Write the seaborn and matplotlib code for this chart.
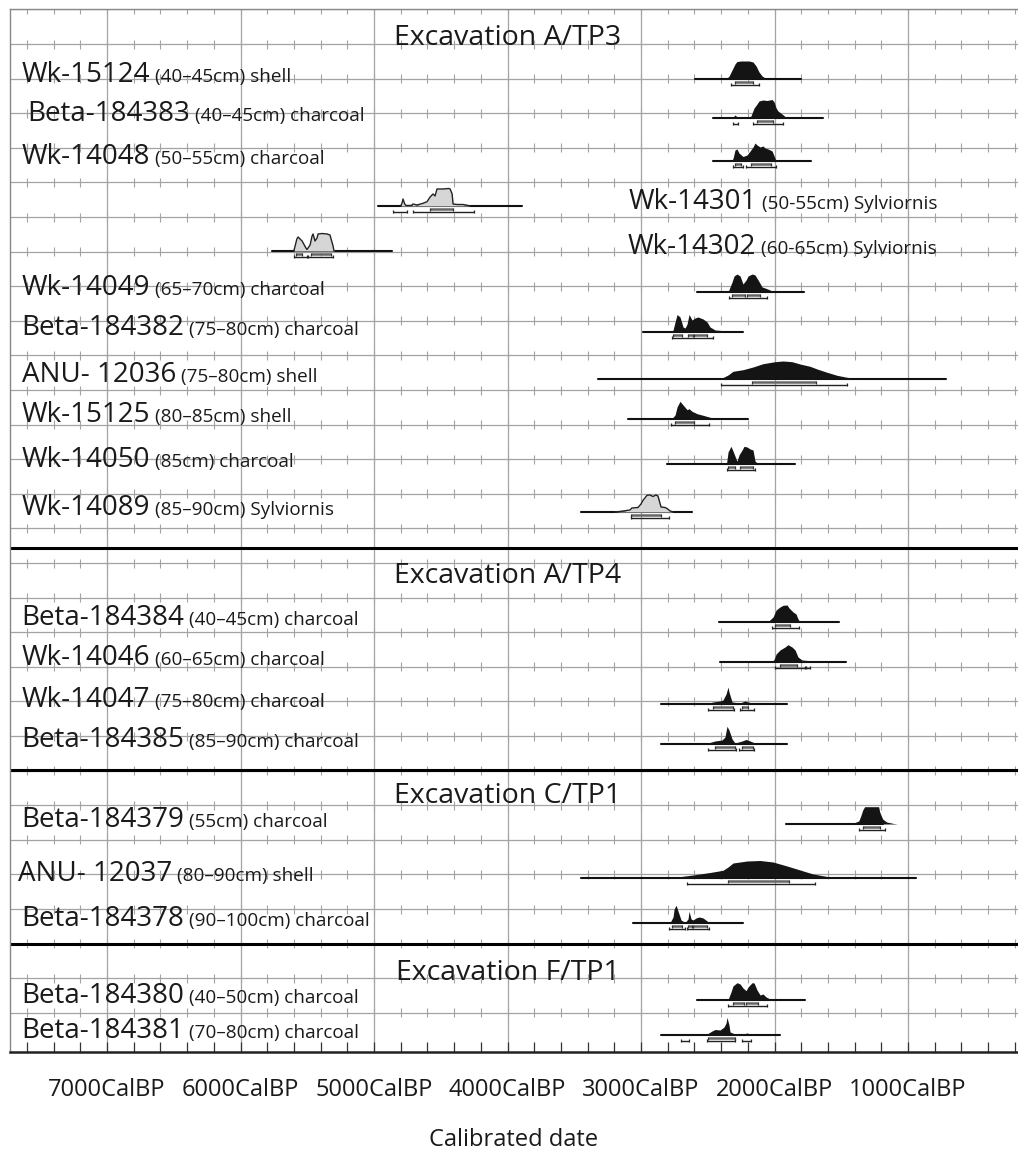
import numpy as np
import pandas as pd
import matplotlib
matplotlib.use("Agg")
import matplotlib.pyplot as plt
import seaborn as sns

# calibrated radiocarbon dates, OxCal style multiplot
sections = ["Excavation A/TP3", "Excavation A/TP4", "Excavation C/TP1", "Excavation F/TP1"]

lab_codes = ["Wk-15124", "Beta-184383", "Wk-14048", "Wk-14301", "Wk-14302", "Wk-14049",
             "Beta-184382", "ANU- 12036", "Wk-15125", "Wk-14050", "Wk-14089",
             "Beta-184384", "Wk-14046", "Wk-14047", "Beta-184385",
             "Beta-184379", "ANU- 12037", "Beta-184378",
             "Beta-184380", "Beta-184381"]
contexts = ["(40–45cm) shell", "(40–45cm) charcoal", "(50–55cm) charcoal",
            "(50-55cm) Sylviornis", "(60-65cm) Sylviornis", "(65–70cm) charcoal",
            "(75–80cm) charcoal", "(75–80cm) shell", "(80–85cm) shell", "(85cm) charcoal",
            "(85–90cm) Sylviornis",
            "(40–45cm) charcoal", "(60–65cm) charcoal", "(75–80cm) charcoal", "(85–90cm) charcoal",
            "(55cm) charcoal", "(80–90cm) shell", "(90–100cm) charcoal",
            "(40–50cm) charcoal", "(70–80cm) charcoal"]

# unmodelled span of each date (cal BP)
prior_start = [2595, 2460, 2460, 4970, 5764, 2580, 2985, 3322, 3097, 2805, 3449,
               2415, 2408, 2851, 2851, 1914, 3449, 3060, 2580, 2851]
prior_end = [1801, 1637, 1726, 3891, 4865, 1779, 2236, 715, 2198, 1846, 2618,
             1516, 1464, 1906, 1906, 1187, 939, 2236, 1771, 1959]

# probability curves (cal BP, relative height)
dens_bp = [
    [2400, 2355, 2340, 2318, 2296, 2281, 2250, 2190, 2161, 2138, 2116, 2093, 2071, 2040],
    [2320, 2303, 2296, 2288, 2270, 2200, 2176, 2168, 2153, 2131, 2116, 2086, 2056, 2018, 2003, 1988, 1974, 1944, 1921, 1890],
    [2320, 2310, 2296, 2281, 2266, 2236, 2206, 2183, 2161, 2146, 2131, 2108, 2086, 2071, 2048, 2018, 2003, 1988],
    [4800, 4790, 4783, 4770, 4760, 4720, 4708, 4678, 4633, 4603, 4580, 4558, 4543, 4528, 4520, 4483, 4440, 4430, 4415, 4408, 4378, 4340, 4333, 4296, 4280],
    [5601, 5593, 5578, 5569, 5539, 5510, 5502, 5494, 5479, 5464, 5457, 5442, 5427, 5419, 5390, 5352, 5330, 5307, 5300],
    [2348, 2318, 2303, 2281, 2258, 2236, 2213, 2198, 2168, 2146, 2123, 2093, 2071, 2033, 2011],
    [2768, 2760, 2745, 2730, 2708, 2685, 2670, 2655, 2640, 2618, 2595, 2573, 2535, 2505, 2483, 2445, 2393, 2370],
    [2850, 2535, 2393, 2348, 2311, 2236, 2161, 2086, 1997, 1936, 1869, 1809, 1734, 1681, 1606, 1532, 1457, 1359, 1157],
    [2790, 2769, 2745, 2730, 2708, 2685, 2655, 2640, 2618, 2580, 2535, 2483, 2430, 2400],
    [2360, 2348, 2326, 2311, 2281, 2266, 2243, 2228, 2206, 2183, 2161, 2146, 2123],
    [3200, 3158, 3083, 3068, 3023, 3000, 2985, 2955, 2933, 2910, 2888, 2873, 2850, 2820, 2805, 2782, 2760],
    [2100, 2043, 2011, 1988, 1959, 1936, 1906, 1891, 1861, 1839, 1824, 1809],
    [2030, 2005, 1988, 1959, 1921, 1899, 1869, 1846, 1824, 1794, 1749, 1720],
    [2708, 2505, 2461, 2408, 2386, 2363, 2348, 2341, 2318, 2258, 2221, 2198, 2131],
    [2708, 2498, 2446, 2393, 2371, 2356, 2341, 2318, 2296, 2243, 2213, 2183, 2146, 2108],
    [1500, 1460, 1408, 1369, 1354, 1339, 1325, 1220, 1212, 1190, 1160, 1107, 1080],
    [2950, 2857, 2730, 2610, 2483, 2386, 2348, 2311, 2206, 2108, 2011, 1906, 1809, 1711, 1606, 1487, 1359],
    [2790, 2782, 2760, 2752, 2737, 2723, 2700, 2670, 2648, 2640, 2625, 2610, 2588, 2565, 2535, 2505, 2483],
    [2360, 2348, 2326, 2311, 2281, 2258, 2236, 2213, 2198, 2168, 2153, 2131, 2108, 2086, 2063, 2033, 2011],
    [2720, 2708, 2655, 2610, 2505, 2468, 2445, 2408, 2378, 2363, 2356, 2341, 2333, 2296, 2236, 2206, 2168, 2140],
]
dens_h = [
    [0, 1, 3, 9, 15, 17.5, 18, 18, 17, 13, 7, 3, 1, 0],
    [0, 2, 3, 2, 0.5, 0.5, 2, 5, 10, 14, 17, 18, 17.5, 18.5, 16, 10, 7, 4, 1.5, 0],
    [0, 3, 11, 12, 8, 4.5, 6, 10, 14, 18, 16, 14, 15, 13, 12, 10, 5, 0],
    [0, 3, 7, 2, 0.5, 0.5, 2, 1, 2.7, 4.3, 9, 12, 10, 17, 17, 17, 17.5, 17, 12, 2, 1.5, 1.5, 1.5, 0.5, 0],
    [0, 4, 12, 14, 10, 3, 1.5, 3, 6, 15, 17, 10, 13, 17, 17.5, 17, 16, 5, 0],
    [0, 10, 16, 18, 16, 8, 12, 16, 18, 17, 12, 5, 4, 2, 0],
    [0, 2, 10, 17.5, 15, 5, 4, 8, 17.5, 12, 14, 15, 13, 10, 5, 2, 1.5, 0],
    [0, 0.3, 1, 4, 7.7, 9.3, 12, 15.3, 17.3, 18, 17.3, 15, 12.7, 10, 6.7, 3.7, 1.7, 0.5, 0],
    [0, 0.5, 4, 12, 17.7, 14, 9.3, 10.3, 7.7, 5.3, 3.7, 1.7, 0.3, 0],
    [0, 12, 17.7, 13, 2.7, 9, 14, 17.7, 17, 15, 14, 3, 0],
    [0, 0.5, 2, 4, 4.5, 8, 11.7, 16.7, 17, 15.5, 17, 16, 5, 4.5, 3.5, 1, 0],
    [0, 1, 5, 12, 15, 16.7, 17, 14, 10, 8, 3, 0],
    [0, 2, 8, 12, 15, 17.3, 15, 12, 5, 2, 1.5, 0],
    [0, 0.5, 2, 3, 4, 10, 17, 12, 2, 1, 3, 2, 0],
    [0, 1, 3, 4, 7, 17.7, 14, 5, 1, 3, 4.5, 3, 1, 0],
    [0, 0.3, 1, 3, 8, 14, 17.3, 17.3, 12, 5, 2, 0.5, 0],
    [0, 0.3, 1, 3, 5.5, 7.7, 11, 15, 17, 17.5, 16, 12, 8, 4, 1.5, 0.5, 0],
    [0, 0.5, 6, 14, 17.7, 12, 3, 0.5, 4, 11.7, 4, 3, 5, 6, 5, 2, 0],
    [0, 0.5, 8, 14, 17.3, 16, 12, 9.3, 13, 17.3, 17, 10, 5, 6, 3, 1, 0],
    [0, 0.5, 1.5, 0.5, 1, 4, 5.5, 5, 8, 12, 17.7, 10, 3, 1, 1, 2, 0.5, 0],
]

# highest posterior density ranges (cal BP)
range68 = [
    [(2296, 2161)], [(2131, 2011)], [(2296, 2251), (2176, 2026)], [(4580, 4408)],
    [(5585, 5540), (5470, 5320)], [(2318, 2221), (2206, 2108)],
    [(2760, 2693), (2648, 2610), (2603, 2505)], [(2168, 1689)], [(2745, 2603)],
    [(2348, 2296), (2258, 2161)], [(3075, 2850)],
    [(1996, 1883)], [(1959, 1831)], [(2461, 2311), (2243, 2198)], [(2446, 2296), (2243, 2161)],
    [(1339, 1212)], [(2348, 1891)], [(2767, 2693), (2648, 2618), (2610, 2505)],
    [(2311, 2228), (2213, 2123)], [(2498, 2296)],
]
range95 = [
    [(2326, 2116)], [(2311, 2274), (2161, 1936)], [(2311, 2236), (2213, 1988)],
    [(4858, 4753), (4708, 4251)], [(5601, 5502), (5494, 5307)], [(2341, 2056)],
    [(2768, 2460)], [(2401, 1457)], [(2775, 2490)], [(2356, 2146)], [(3075, 2790)],
    [(2018, 1816)], [(1996, 1771), (1764, 1734)], [(2498, 2303), (2258, 2153)],
    [(2498, 2288), (2266, 2153)],
    [(1369, 1175)], [(2655, 1696)], [(2790, 2670), (2655, 2490)],
    [(2348, 2056)], [(2700, 2640), (2505, 2296), (2243, 2176)],
]

tick_years = [7000, 6000, 5000, 4000, 3000, 2000, 1000]

# ---- layout (pixel rows) ----
W, H = 1018, 1153
top_px, bot_px, left_px = 9.4, 1052, 10
row_base = [79, 118, 161, 206, 251, 292, 332, 379, 419, 464, 512,
            622, 662, 704, 744, 824, 878, 923, 1000, 1035]
label_x = [7640, 7599, 7640, 3090, 3097, 7640, 7640, 7640, 7640, 7640, 7640,
           7640, 7640, 7640, 7640, 7640, 7667, 7640, 7640, 7640]
title_base = [45, 583, 803, 980]
separators = [548, 770, 944]
row_step = 34.6
x_lo, x_hi = 7727, 176

sns.set_theme(style="white")
plt.rcParams["font.family"] = ["Open Sans", "DejaVu Sans"]

fig = plt.figure(figsize=(W / 100, H / 100), dpi=100)
ax = fig.add_axes([left_px / W, 1 - bot_px / H, 1 - left_px / W, (bot_px - top_px) / H])

grid_c = "#a3a3a3"
grid_y = top_px + row_step * np.arange(0, 30)
minor_x = np.arange(7600, 199, -200)
ax.hlines(grid_y, x_lo, x_hi, color=grid_c, lw=0.9, zorder=1)
ax.vlines(tick_years, top_px, bot_px, color=grid_c, lw=0.9, zorder=1)
mx, my = np.meshgrid(minor_x, grid_y)
ax.vlines(mx.ravel(), my.ravel() - 4.5, my.ravel() + 4.5, color=grid_c, lw=0.8, zorder=1)
# ticks standing on the bottom border
ax.vlines(minor_x, bot_px - 10, bot_px, color="#333333", lw=0.9, zorder=2)
ax.hlines(separators, x_lo, x_hi, color="black", lw=2.2, zorder=2)

# unmodelled spans
prior_df = pd.DataFrame({
    "bp": prior_start + prior_end,
    "y": row_base + row_base,
    "sample": list(range(len(row_base))) * 2,
})
sns.lineplot(data=prior_df, x="bp", y="y", units="sample", estimator=None,
             color="#111111", lw=1.5, ax=ax, legend=False, zorder=3)

outline_rows = []
for i, y0 in enumerate(row_base):
    bp = np.array(dens_bp[i])
    h = np.array(dens_h[i])
    bird = "Sylviornis" in contexts[i]
    ax.fill_between(bp, y0, y0 - h, color="#d6d6d6" if bird else "#141414", lw=0, zorder=4)
    if bird:
        outline_rows.append(pd.DataFrame({"bp": bp, "y": y0 - h, "sample": i}))
    for a, b in range68[i]:
        ax.hlines(y0 + 3, a, b, color="#666666", lw=1.8, zorder=5)
        ax.vlines([a, b], y0 + 1.5, y0 + 4.5, color="#333333", lw=0.9, zorder=5)
    for a, b in range95[i]:
        ax.hlines(y0 + 5.8, a, b, color="#222222", lw=1.0, zorder=5)
        ax.vlines([a, b], y0 + 4.3, y0 + 7.3, color="#222222", lw=0.9, zorder=5)

sns.lineplot(data=pd.concat(outline_rows), x="bp", y="y", units="sample", estimator=None,
             sort=False, color="#222222", lw=1.0, ax=ax, legend=False, zorder=5)

for s, yb in zip(sections, title_base):
    ax.text(4000, yb, s, fontsize=20.5, ha="center", va="baseline", color="#1a1a1a", zorder=6)

code_texts = []
for i, y0 in enumerate(row_base):
    t = ax.text(label_x[i], y0 + 3, lab_codes[i], fontsize=20, ha="left", va="baseline",
                color="#1a1a1a", zorder=6)
    code_texts.append(t)

ax.set_xlim(x_lo, x_hi)
ax.set_ylim(bot_px, top_px)
ax.set_xticks(tick_years)
ax.set_xticklabels([f"{v}CalBP" for v in tick_years])
ax.set_yticks([])
ax.tick_params(axis="x", length=0, pad=18.5, labelsize=17, colors="#1a1a1a")
ax.set_xlabel("Calibrated date", fontsize=17, labelpad=19, color="#1a1a1a")
ax.set_ylabel("")
for side in ["top", "left"]:
    ax.spines[side].set_color("#888888")
    ax.spines[side].set_linewidth(1.0)
ax.spines["bottom"].set_color("#222222")
ax.spines["bottom"].set_linewidth(1.8)
ax.spines["right"].set_visible(False)

# put the context text right after each lab code
fig.canvas.draw()
rend = fig.canvas.get_renderer()
inv = ax.transData.inverted()
for i, t in enumerate(code_texts):
    bb = t.get_window_extent(rend)
    xd = inv.transform((bb.x1 + 5, 0))[0]
    ax.text(xd, row_base[i] + 3, contexts[i], fontsize=13.6, ha="left", va="baseline",
            color="#1a1a1a", zorder=6)

fig.savefig("out.png", dpi=100)
